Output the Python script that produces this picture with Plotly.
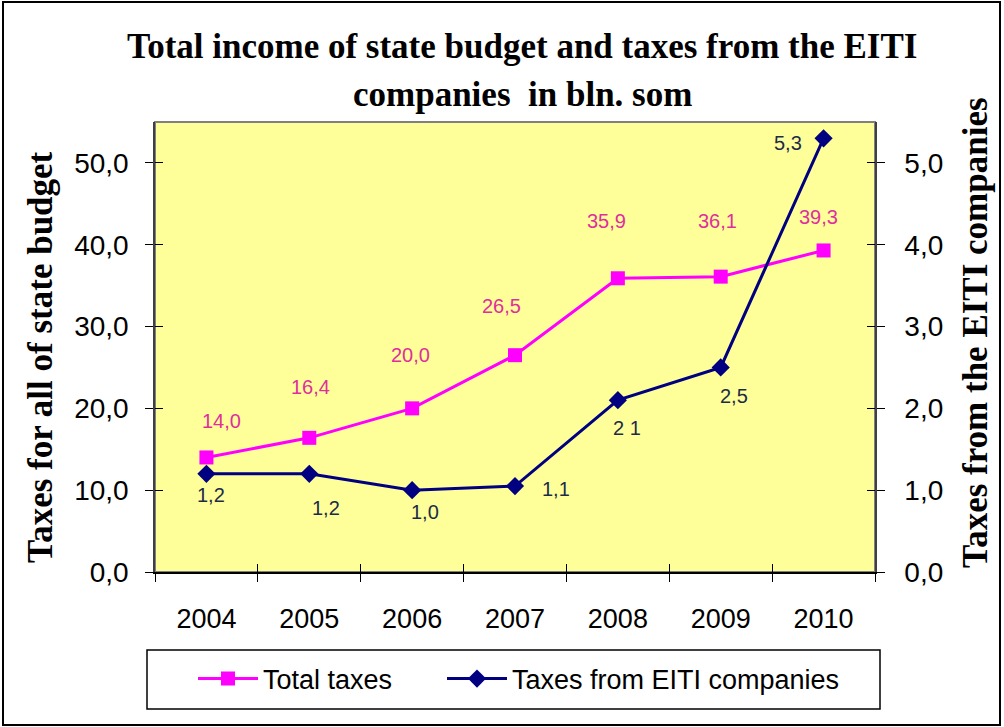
import plotly.graph_objects as go

years = ["2004", "2005", "2006", "2007", "2008", "2009", "2010"]
total_taxes = [14.0, 16.4, 20.0, 26.5, 35.9, 36.1, 39.3]
eiti_taxes = [1.2, 1.2, 1.0, 1.05, 2.1, 2.5, 5.3]
eiti_labels = ["1,2", "1,2", "1,0", "1,1", "2 1", "2,5", "5,3"]

# label offsets (pixels) for the data labels, as placed in the original
total_lbl_dx = [15, 1, -2, -14, -11, -3, -5]
total_lbl_dy = [36, 51, 53, 49, 57, 56, 33]
eiti_lbl_dx = [5, 17, 13, 41, 9, 13, -36]
eiti_lbl_dy = [-21, -34, -22, -3, -28, -29, -5]

PINK = "#FF00FF"
NAVY = "#000080"
PINK_TXT = "#DF2E9E"
NAVY_TXT = "#1C2B4A"

L, R, T, B = 155, 875, 122, 572
W, H = 1004, 727
pw, ph = R - L, B - T


def px(x):
    return (x - L) / pw


def py(y):
    return (B - y) / ph


# category positions on the x axis (one slot per year)
xpos = list(range(len(years)))
empty = [None] * len(years)

legend_font = dict(family="Arial, Liberation Sans", size=27, color="black")

fig = go.Figure()
fig.add_trace(go.Scatter(
    x=xpos, y=total_taxes, name="Total taxes", mode="lines+markers",
    line=dict(color=PINK, width=3),
    marker=dict(symbol="square", size=14, color=PINK),
    xaxis="x", yaxis="y", legend="legend",
))
fig.add_trace(go.Scatter(
    x=xpos, y=eiti_taxes, name="Taxes from EITI companies", mode="lines+markers",
    line=dict(color=NAVY, width=3),
    marker=dict(symbol="diamond", size=14, color=NAVY),
    xaxis="x", yaxis="y2", legend="legend2",
))
# invisible helpers so the tick-only overlay axes (inner half of crossing ticks) are drawn
fig.add_trace(go.Scatter(x=xpos, y=empty, xaxis="x2", yaxis="y3", showlegend=False,
                         hoverinfo="skip", mode="lines"))
fig.add_trace(go.Scatter(x=xpos, y=empty, xaxis="x2", yaxis="y4", showlegend=False,
                         hoverinfo="skip", mode="lines"))

annotations = []
for i, v in enumerate(total_taxes):
    annotations.append(dict(
        x=xpos[i], y=v, xref="x", yref="y", text=f"{v:.1f}".replace(".", ","),
        showarrow=False, xshift=total_lbl_dx[i], yshift=total_lbl_dy[i],
        font=dict(family="Arial, Liberation Sans", size=20, color=PINK_TXT),
    ))
for i, v in enumerate(eiti_taxes):
    annotations.append(dict(
        x=xpos[i], y=v, xref="x", yref="y2", text=eiti_labels[i],
        showarrow=False, xshift=eiti_lbl_dx[i], yshift=eiti_lbl_dy[i],
        font=dict(family="Arial, Liberation Sans", size=20, color=NAVY_TXT),
    ))

serif = "Liberation Serif, Times New Roman, serif"
title_font = dict(family=serif, size=35, color="black")
annotations += [
    dict(text="<b>Total income of state budget and taxes from the EITI</b>",
         x=px(522), y=py(47), xref="paper", yref="paper", showarrow=False,
         xanchor="center", yanchor="middle", font=title_font),
    dict(text="<b>companies  in bln. som</b>",
         x=px(522), y=py(95), xref="paper", yref="paper", showarrow=False,
         xanchor="center", yanchor="middle", font=title_font),
    dict(text="<b>Taxes for all of state budget</b>",
         x=px(40), y=py(357), xref="paper", yref="paper", showarrow=False,
         textangle=-90, xanchor="center", yanchor="middle",
         font=dict(family=serif, size=35, color="black")),
    dict(text="<b>Taxes from the EITI companies</b>",
         x=px(975), y=py(333), xref="paper", yref="paper", showarrow=False,
         textangle=-90, xanchor="center", yanchor="middle",
         font=dict(family=serif, size=35, color="black")),
]

shapes = [
    dict(type="rect", xref="paper", yref="paper", x0=0, x1=1, y0=0, y1=1,
         line=dict(color="#808080", width=2), layer="below"),
    dict(type="rect", xref="paper", yref="paper", x0=px(147), x1=px(880), y0=py(709), y1=py(650),
         line=dict(color="black", width=1.5)),
    dict(type="rect", xref="paper", yref="paper", x0=px(3), x1=px(1000), y0=py(725), y1=py(2),
         line=dict(color="black", width=2)),
]

tick_font = dict(family="Arial, Liberation Sans", size=28, color="black")
tk = dict(ticklen=8, tickcolor="black", tickwidth=1.2)

fig.update_layout(
    width=W, height=H,
    margin=dict(l=L, r=W - R, t=T, b=H - B),
    paper_bgcolor="white",
    plot_bgcolor="#FFFF99",
    separators=",.",
    showlegend=True,
    legend=dict(orientation="h", x=px(193), xanchor="left", y=py(679), yanchor="middle",
                font=legend_font, bgcolor="rgba(0,0,0,0)", borderwidth=0, itemwidth=60),
    legend2=dict(orientation="h", x=px(442), xanchor="left", y=py(679), yanchor="middle",
                 font=legend_font, bgcolor="rgba(0,0,0,0)", borderwidth=0, itemwidth=60),
    xaxis=dict(type="linear", range=[-0.5, len(years) - 0.5],
               tickmode="array", tickvals=xpos, ticktext=years, ticks="",
               showgrid=False, zeroline=False,
               showline=True, linecolor="black", linewidth=1.5,
               minor=dict(tickmode="linear", tick0=-0.5, dtick=1, ticks="outside",
                          showgrid=False, **tk),
               ticklabelstandoff=22,
               tickfont=dict(family="Arial, Liberation Sans", size=27, color="black")),
    xaxis2=dict(type="linear", range=[-0.5, len(years) - 0.5], overlaying="x", side="bottom",
                tickmode="linear", tick0=-0.5, dtick=1, ticks="inside", showticklabels=False,
                showgrid=False, zeroline=False, showline=False, **tk),
    yaxis=dict(range=[0, 55], dtick=10, tickformat=".1f", showgrid=False, zeroline=False,
               showline=True, linecolor="#404040", linewidth=1.5,
               ticks="outside", tickfont=tick_font, ticklabelstandoff=11, **tk),
    yaxis2=dict(range=[0, 5.5], dtick=1, tickformat=".1f", overlaying="y", side="right",
                showgrid=False, zeroline=False, showline=True, linecolor="#404040", linewidth=1.5,
                ticks="outside", tickfont=tick_font, ticklabelstandoff=14, **tk),
    yaxis3=dict(range=[0, 55], dtick=10, overlaying="y", side="left", anchor="x2",
                showgrid=False, zeroline=False, showline=False, ticks="inside",
                showticklabels=False, **tk),
    yaxis4=dict(range=[0, 5.5], dtick=1, overlaying="y", side="right", anchor="x2",
                showgrid=False, zeroline=False, showline=False, ticks="inside",
                showticklabels=False, **tk),
    annotations=annotations,
    shapes=shapes,
)

fig.write_html("out.html")
